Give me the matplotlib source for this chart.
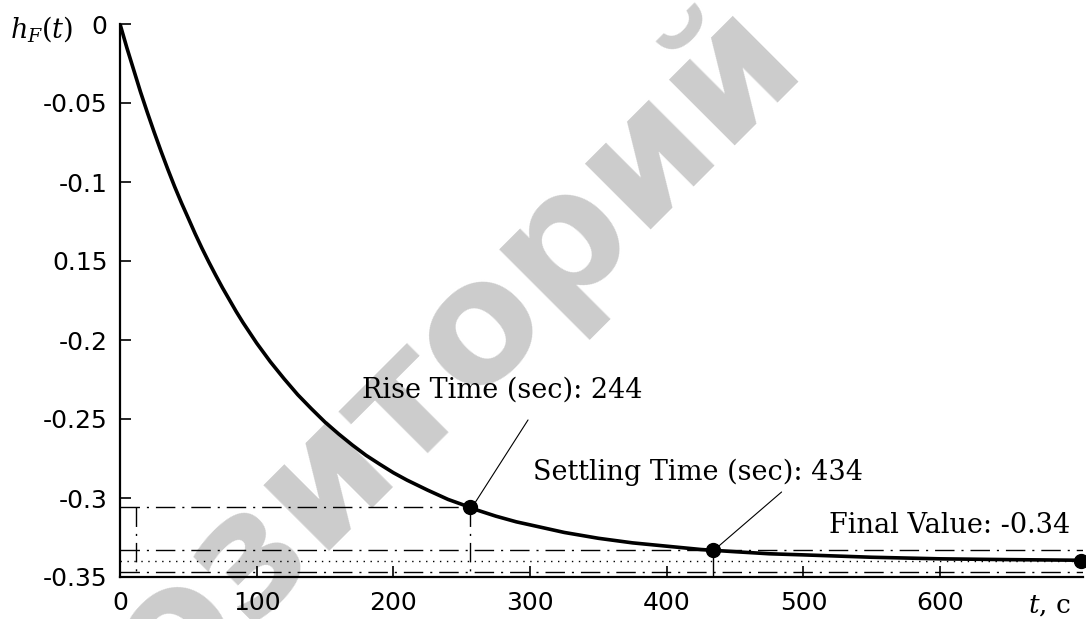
import numpy as np
import matplotlib
matplotlib.use('Agg')
import matplotlib.pyplot as plt

plt.rcParams.update({
    'font.family': 'DejaVu Sans',
    'mathtext.fontset': 'dejavuserif',
})

# step response
t_resp = [0, 5, 10, 15, 20, 25, 30, 35, 40, 45, 50, 55, 60, 65, 70, 75, 80, 85,
          90, 95, 100, 110, 120, 130, 140, 150, 160, 170, 180, 190, 200, 210,
          225, 240, 250, 260, 275, 290, 300, 325, 350, 375, 400, 425, 450, 475,
          500, 550, 600, 650, 703]
h_resp = [0, -0.015, -0.029, -0.043, -0.056, -0.0685, -0.0805, -0.092, -0.103,
          -0.1133, -0.123, -0.1328, -0.142, -0.1507, -0.159, -0.167, -0.1745,
          -0.182, -0.189, -0.1955, -0.202, -0.2138, -0.2245, -0.2346, -0.2435,
          -0.252, -0.2595, -0.2665, -0.273, -0.2786, -0.284, -0.2887, -0.295,
          -0.3009, -0.304, -0.3073, -0.3115, -0.3151, -0.317, -0.3218, -0.3255,
          -0.3284, -0.3305, -0.3326, -0.334, -0.3353, -0.336, -0.3375, -0.3385,
          -0.339, -0.3394]

# characteristic points
t_10, t_90, t_settle, t_end = 12, 256, 434, 703
h_90, h_settle, h_final = -0.306, -0.3332, -0.34
h_band_lo, h_band_hi = -0.3468, -0.3332

yticks = [0, -0.05, -0.1, -0.15, -0.2, -0.25, -0.3, -0.35]
ytick_labels = ['0', '-0.05', '-0.1', '0.15', '-0.2', '-0.25', '-0.3', '-0.35']
xticks = [0, 100, 200, 300, 400, 500, 600]
xtick_labels = ['0', '100', '200', '300', '400', '500', '600']

W, H = 1086, 619
fig = plt.figure(figsize=(W / 100, H / 100), dpi=100)
ax = fig.add_axes([120 / W, 1 - 577 / H, (1083 - 120) / W, (577 - 24) / H])

# watermark
ax.text(805 / W, 1 - 60 / H, 'Репозиторий', transform=fig.transFigure,
        rotation=45, rotation_mode='anchor', ha='right', va='baseline',
        fontsize=122, fontweight='bold', color='#cccccc', zorder=0, clip_on=False)

dd = (0, (14, 5, 1.5, 5))
lk = dict(color='black', lw=1.0, zorder=2)

# reference lines
ax.plot([0, t_90], [h_90, h_90], linestyle=dd, **lk)
ax.plot([t_10, t_10], [h_90, -0.35], linestyle=dd, **lk)
ax.plot([t_90, t_90], [h_90, -0.35], linestyle=dd, **lk)
ax.plot([t_settle, t_settle], [h_settle, -0.35], linestyle='-', **lk)
ax.axhline(h_band_hi, linestyle=dd, **lk)
ax.axhline(h_band_lo, linestyle=dd, **lk)
ax.axhline(h_final, linestyle=(0, (1, 4)), color='black', lw=1.0, zorder=2)

# response curve
ax.plot(t_resp, h_resp, color='black', lw=2.6, zorder=3, solid_joinstyle='round')
ax.plot([t_90, t_settle, t_end], [h_90, h_settle, h_final], 'o', color='black',
        ms=10, zorder=4, clip_on=False)

# annotations
serif = dict(family='DejaVu Serif', fontsize=19.5, color='black')
ax.annotate('', xy=(t_90 + 3, h_90 + 0.002), xytext=(298.5, -0.2506),
            arrowprops=dict(arrowstyle='-', lw=0.8, color='black', shrinkA=0, shrinkB=0))
ax.annotate('', xy=(t_settle + 3, h_settle + 0.002), xytext=(484, -0.2962),
            arrowprops=dict(arrowstyle='-', lw=0.8, color='black', shrinkA=0, shrinkB=0))
ax.text(177, -0.2367, 'Rise Time (sec): 244', va='baseline', ha='left', **serif)
ax.text(302, -0.2886, 'Settling Time (sec): 434', va='baseline', ha='left', **serif)
ax.text(519, -0.3222, 'Final Value: -0.34', va='baseline', ha='left', **serif)

ax.set_xlim(0, 704.5)
ax.set_ylim(-0.35, 0)
ax.set_xticks(xticks)
ax.set_xticklabels(xtick_labels)
ax.set_yticks(yticks)
ax.set_yticklabels(ytick_labels)
ax.tick_params(direction='in', length=8, width=1.2, labelsize=18, colors='black')
ax.tick_params(axis='x', pad=10)
ax.tick_params(axis='y', pad=9)
for s in ['top', 'right']:
    ax.spines[s].set_visible(False)
for s in ['left', 'bottom']:
    ax.spines[s].set_linewidth(1.6)
ax.patch.set_visible(False)

fig.text(10 / W, 1 - 37 / H, r'$h_F(t)$', fontsize=19.5, ha='left', va='baseline')
fig.text(1028 / W, 1 - 613 / H, r'$t$, c', fontsize=19, family='DejaVu Serif',
         ha='left', va='baseline')

fig.savefig('out.png', dpi=100, facecolor='white')
